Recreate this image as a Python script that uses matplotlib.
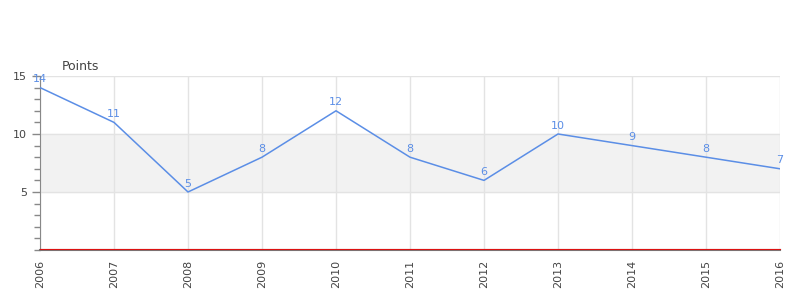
import matplotlib
matplotlib.use("Agg")
import matplotlib.pyplot as plt
from matplotlib.ticker import MultipleLocator

years = [2006, 2007, 2008, 2009, 2010, 2011, 2012, 2013, 2014, 2015, 2016]
points = [14, 11, 5, 8, 12, 8, 6, 10, 9, 8, 7]
band = (5, 10)

line_color = "#5b8ee6"
grid_color = "#e3e3e3"

fig = plt.figure(figsize=(8, 3), dpi=100)
ax = fig.add_axes([0.05, 0.1667, 0.925, 0.58])

ax.axhspan(band[0], band[1], color="#f2f2f2", zorder=0)
ax.plot(years, points, color=line_color, lw=1.1, zorder=3)
for x, y in zip(years, points):
    ax.annotate(str(y), (x, y), xytext=(0, 2.5), textcoords="offset points",
                ha="center", va="bottom", color=line_color, fontsize=8, zorder=4)

ax.set_xlim(years[0], years[-1])
ax.set_ylim(0, 15)
ax.set_xticks(years)
ax.set_xticklabels([str(y) for y in years], rotation=90, fontsize=8, color="#444444")
ax.set_yticks([5, 10, 15])
ax.set_yticklabels(["5", "10", "15"], fontsize=8, color="#444444")
ax.yaxis.set_minor_locator(MultipleLocator(1))
ax.tick_params(axis="y", which="major", length=6, color="#888888", width=1)
ax.tick_params(axis="y", which="minor", length=4, color="#888888", width=1)
ax.tick_params(axis="x", length=0, pad=7)

ax.grid(True, color=grid_color, lw=1, zorder=1)
ax.set_axisbelow(True)
for s in ["top", "right"]:
    ax.spines[s].set_visible(False)
ax.spines["left"].set_color("#888888")
ax.spines["bottom"].set_color("#777777")
ax.spines["bottom"].set_linewidth(1.5)
ax.axhline(0.1, color="#dd1111", lw=0.8, zorder=5, clip_on=False)

fig.text(0.0775, 0.765, "Points", fontsize=9, color="#444444")

fig.savefig("out.png", dpi=100)
